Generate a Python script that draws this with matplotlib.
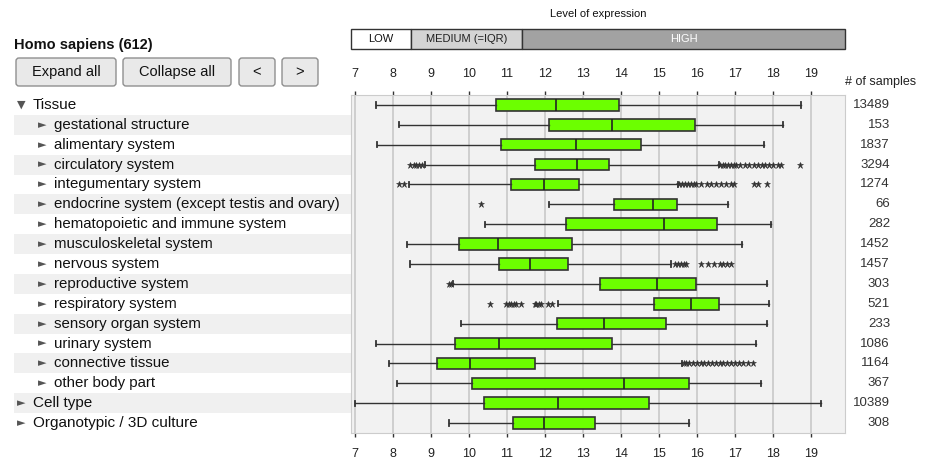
import matplotlib
matplotlib.use("Agg")
import matplotlib.pyplot as plt
from matplotlib.patches import FancyBboxPatch, Rectangle
from matplotlib.transforms import blended_transform_factory

plt.rcParams['font.family'] = ['Liberation Sans', 'DejaVu Sans']

# ---- data ----
labels = ["Tissue", "gestational structure", "alimentary system", "circulatory system",
          "integumentary system", "endocrine system (except testis and ovary)",
          "hematopoietic and immune system", "musculoskeletal system", "nervous system",
          "reproductive system", "respiratory system", "sensory organ system",
          "urinary system", "connective tissue", "other body part", "Cell type",
          "Organotypic / 3D culture"]
levels = [0, 1, 1, 1, 1, 1, 1, 1, 1, 1, 1, 1, 1, 1, 1, 0, 0]
expanded = [True] + [False] * 16
counts = [13489, 153, 1837, 3294, 1274, 66, 282, 1452, 1457, 303, 521, 233, 1086,
          1164, 367, 10389, 308]

whislo = [7.55, 8.17, 7.58, 8.84, 8.43, 12.10, 10.42, 8.37, 8.46, 9.58, 12.35, 9.79,
          7.55, 7.91, 8.10, 7.00, 9.47]
q1 = [10.71, 12.11, 10.84, 11.75, 11.10, 13.83, 12.56, 9.73, 10.80, 13.44, 14.87, 12.33,
      9.64, 9.15, 10.09, 10.41, 11.16]
med = [12.29, 13.76, 12.82, 12.85, 11.98, 14.84, 15.13, 10.78, 11.62, 14.94, 15.85, 13.57,
       10.79, 10.02, 14.09, 12.36, 11.98]
q3 = [13.96, 15.95, 14.52, 13.69, 12.89, 15.49, 16.53, 12.72, 12.62, 15.98, 16.59, 15.19,
      13.76, 11.74, 15.79, 14.73, 13.33]
whishi = [18.75, 18.28, 17.76, 16.58, 15.50, 16.82, 17.96, 17.19, 15.32, 17.86, 17.91, 17.84,
          17.56, 15.62, 17.70, 19.27, 15.80]
fliers = [
    [],
    [],
    [],
    [8.45, 8.55, 8.62, 8.70, 8.78, 16.62, 16.68, 16.75, 16.82, 16.90, 16.98, 17.03, 17.14,
     17.27, 17.38, 17.50, 17.62, 17.71, 17.79, 17.91, 18.00, 18.13, 18.22, 18.71],
    [8.15, 8.30, 15.52, 15.60, 15.68, 15.76, 15.84, 15.92, 15.98, 16.11, 16.26, 16.37,
     16.51, 16.64, 16.77, 16.90, 16.99, 17.51, 17.60, 17.86],
    [10.31],
    [],
    [],
    [15.42, 15.50, 15.58, 15.66, 15.72, 16.12, 16.30, 16.45, 16.60, 16.70, 16.80, 16.90],
    [9.47, 9.52],
    [10.57, 10.99, 11.05, 11.10, 11.20, 11.25, 11.38, 11.73, 11.78, 11.84, 11.90, 12.08,
     12.18],
    [],
    [],
    [15.66, 15.72, 15.80, 15.90, 16.00, 16.10, 16.20, 16.30, 16.40, 16.50, 16.60, 16.70,
     16.80, 16.90, 17.00, 17.10, 17.22, 17.35, 17.47],
    [],
    [],
    [],
]
xticks = list(range(7, 20))
legend_parts = ["LOW", "MEDIUM (=IQR)", "HIGH"]

# ---- figure layout (pixel based) ----
W, H = 935, 463
fig = plt.figure(figsize=(W / 100, H / 100), dpi=100)

def fig_rect(x0, y0, x1, y1):
    return [x0 / W, 1 - y1 / H, (x1 - x0) / W, (y1 - y0) / H]

# overlay for headers / buttons
over = fig.add_axes([0, 0, 1, 1], zorder=0)
over.set_xlim(0, W)
over.set_ylim(H, 0)
over.axis('off')

ax = fig.add_axes(fig_rect(351, 95, 845, 433), zorder=2)
axl = fig.add_axes(fig_rect(0, 95, 351, 433), zorder=1, sharey=ax)

n = len(labels)
stats = []
for i in range(n):
    stats.append(dict(med=med[i], q1=q1[i], q3=q3[i], whislo=whislo[i],
                      whishi=whishi[i], fliers=fliers[i], label=labels[i]))

ax.set_facecolor('#f2f2f2')
ax.bxp(stats, positions=range(n), orientation='horizontal', widths=0.58,
       capwidths=0.26, patch_artist=True, showfliers=True,
       boxprops=dict(facecolor='#6cff00', edgecolor='#333333', linewidth=1.2),
       medianprops=dict(color='#222222', linewidth=1.2),
       whiskerprops=dict(color='#333333', linewidth=1.0),
       capprops=dict(color='#333333', linewidth=1.3),
       flierprops=dict(marker='*', markersize=5, markerfacecolor='#333333',
                       markeredgecolor='#333333', markeredgewidth=0.4, linestyle='none'))
ax.set_ylim(n - 0.5, -0.5)
ax.set_xlim(6.9, 19.9)
ax.set_xticks(xticks)
ax.set_yticks([])
ax.grid(axis='x', color='#c8c8c8', linewidth=1.2)
ax.set_axisbelow(True)
for s in ax.spines.values():
    s.set_color('#cccccc')
ax.tick_params(axis='x', length=3, width=1, color='#333333', pad=8,
               labelsize=9, labelcolor='#222222')
top = ax.secondary_xaxis('top')
top.set_xticks(xticks)
top.tick_params(axis='x', length=3, width=1, color='#333333', pad=7.5,
                labelsize=9, labelcolor='#222222')
top.spines['top'].set_visible(False)

# sample counts
tr = blended_transform_factory(fig.transFigure, ax.transData)
for i, c in enumerate(counts):
    ax.text(890 / W, i, str(c), transform=tr, ha='right', va='center',
            fontsize=9.5, color='#333333', clip_on=False)
over.text(881, 82, "# of samples", ha='center', va='center', fontsize=9, color='#222222')

# left tree labels
axl.set_xlim(0, 351)
axl.axis('off')
stripe_rows = [i for i in range(n) if i % 2 == 1]
axl.barh(stripe_rows, [351 - 14] * len(stripe_rows), left=14, height=1.0,
         color='#f0f0f0', zorder=0)
for i, (lab, lv, ex) in enumerate(zip(labels, levels, expanded)):
    tx = 33 if lv == 0 else 54
    axl.text(tx - 12, i, '▼' if ex else '►', ha='center', va='center', fontsize=8,
             color='#555555', family=['DejaVu Sans'])
    axl.text(tx, i, lab, ha='left', va='center', fontsize=11 if lv == 0 else 10.8,
             color='#111111')

# header text and buttons
over.text(14, 45, "Homo sapiens (612)", ha='left', va='center', fontsize=10.5,
          fontweight='bold', color='#111111')
buttons = [("Expand all", 16, 116), ("Collapse all", 123, 231), ("<", 239, 275), (">", 282, 318)]
for txt, x0, x1 in buttons:
    over.add_patch(FancyBboxPatch((x0 + 3, 61), x1 - x0 - 6, 22,
                                  boxstyle="round,pad=3", facecolor='#e9e9e9',
                                  edgecolor='#8f8f8f', linewidth=1.0))
    over.text((x0 + x1) / 2, 72, txt, ha='center', va='center', fontsize=10.5,
              color='#111111')

# expression level legend
over.text(598, 14, "Level of expression", ha='center', va='center', fontsize=8,
          color='#111111')
bounds = [351, 411, 522, 845]
fills = ['white', '#d4d4d4', '#a2a2a2']
tcols = ['#111111', '#222222', 'white']
for k, part in enumerate(legend_parts):
    over.add_patch(Rectangle((bounds[k], 29), bounds[k + 1] - bounds[k], 20,
                             facecolor=fills[k], edgecolor='#333333', linewidth=1.0))
    over.text((bounds[k] + bounds[k + 1]) / 2, 39.5, part, ha='center', va='center',
              fontsize=8, color=tcols[k])

fig.savefig('out.png', dpi=100)
